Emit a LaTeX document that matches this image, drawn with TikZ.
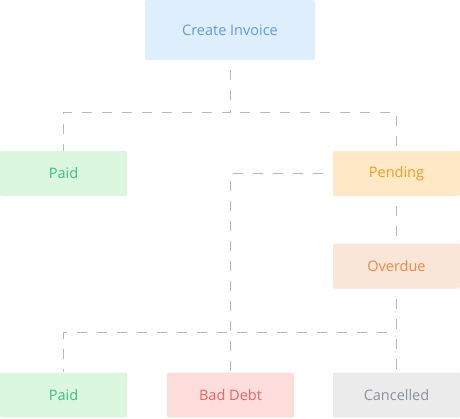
\documentclass[tikz,border=0pt]{standalone}
\usepackage{fontspec}
\setmainfont{Open Sans}
\usetikzlibrary{positioning,calc}
\definecolor{createfill}{HTML}{E0EFFE}
\definecolor{createtext}{HTML}{5C9DE3}
\definecolor{paidfill}{HTML}{DCF7DF}
\definecolor{paidtext}{HTML}{3CC27C}
\definecolor{pendfill}{HTML}{FFE9C6}
\definecolor{pendtext}{HTML}{F59A23}
\definecolor{overfill}{HTML}{FAE6D8}
\definecolor{overtext}{HTML}{EE8844}
\definecolor{badfill}{HTML}{FDDEDD}
\definecolor{badtext}{HTML}{EC6464}
\definecolor{cancfill}{HTML}{EBEBEB}
\definecolor{canctext}{HTML}{8B929C}
\definecolor{linkgray}{HTML}{B8B8B8}
\tikzset{
  state/.style={rectangle, rounded corners=2pt, minimum width=127pt, minimum height=45pt,
    inner sep=0pt, font=\fontsize{14.5}{17}\selectfont},
  link/.style={draw=linkgray, line width=1pt, dash pattern=on 10pt off 10pt, dash phase=10pt},
}
\begin{document}
\begin{tikzpicture}[x=1pt,y=-1pt]
  \useasboundingbox (0,0) rectangle (460,418);
  \node[state, minimum width=170pt, minimum height=60pt, fill=createfill, text=createtext] (create) at (230,30) {Create Invoice};
  \node[state, fill=paidfill, text=paidtext] (paidA) at (63.5,173.5) {Paid};
  \node[state, fill=pendfill, text=pendtext] (pending) at (396.5,173.5) {Pending};
  \node[state, fill=overfill, text=overtext] (overdue) at (396.5,266) {Overdue};
  \node[state, fill=paidfill, text=paidtext] (paidB) at (63.5,395) {Paid};
  \node[state, fill=badfill, text=badtext] (baddebt) at (230.5,395) {Bad Debt};
  \node[state, fill=cancfill, text=canctext] (cancelled) at (396.5,395) {Cancelled};
  % forks
  \coordinate (forkA) at (230,112);
  \coordinate (forkB) at (396.5,332);
  \draw[link] (create) -- (forkA) -| (paidA);
  \draw[link] (forkA) -| (pending);
  \draw[link] (pending.west) -| (baddebt.north);
  \draw[link] (pending) -- (overdue);
  \draw[link] (overdue) -- (cancelled);
  \draw[link] (forkB) -| (paidB);
\end{tikzpicture}
\end{document}
